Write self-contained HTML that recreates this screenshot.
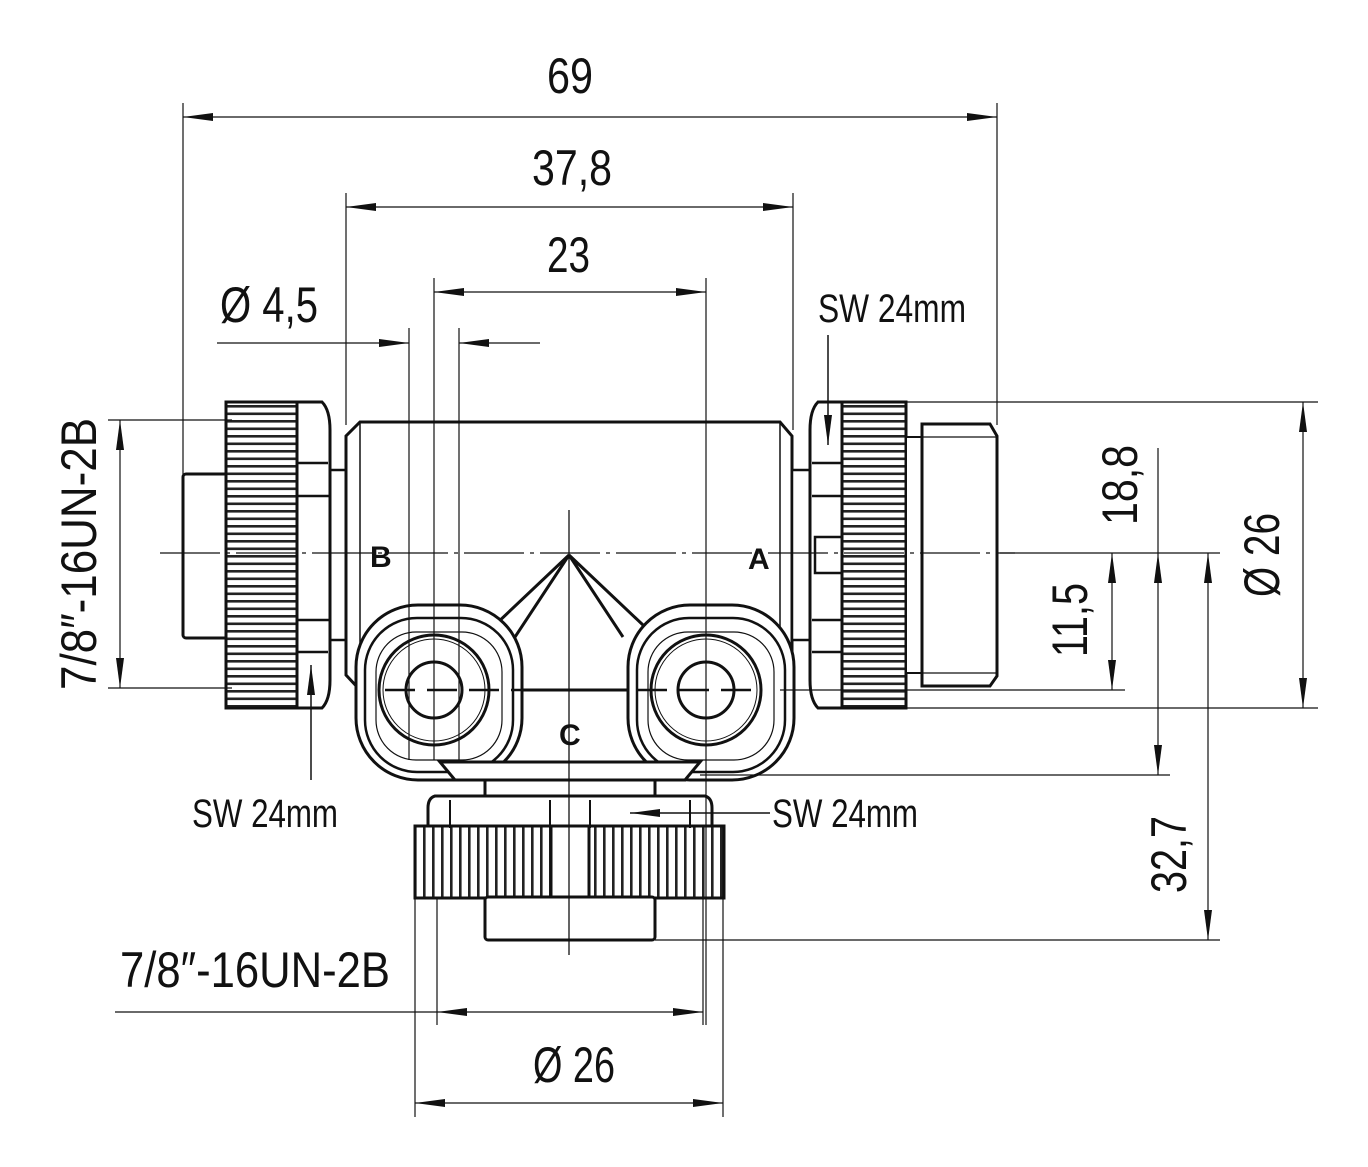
<!DOCTYPE html>
<html><head><meta charset="utf-8"><style>
html,body{margin:0;padding:0;background:#fff}
svg{display:block}
text{font-family:"Liberation Sans Narrow","Liberation Sans",sans-serif;fill:#111}
</style></head><body>
<svg width="1368" height="1167" viewBox="0 0 1368 1167" xmlns="http://www.w3.org/2000/svg">
<defs>
<marker id="a" viewBox="0 0 30 10" refX="30" refY="5" markerWidth="30" markerHeight="10" markerUnits="userSpaceOnUse" orient="auto-start-reverse"><path d="M0,1 L30,5 L0,9 Z" fill="#111"/></marker>
<pattern id="kh" width="10" height="7.5" patternUnits="userSpaceOnUse"><rect width="10" height="7.5" fill="#fff"/><rect y="0" width="10" height="2.6" fill="#222"/></pattern>
<pattern id="kv" width="9" height="10" patternUnits="userSpaceOnUse"><rect width="9" height="10" fill="#fff"/><rect x="0" width="2.6" height="10" fill="#222"/></pattern>
</defs>
<!-- Left connector -->
<g stroke="#111" stroke-width="3" fill="#fff">
<rect x="183" y="474" width="45" height="164" rx="3"/>
<rect x="330" y="470" width="18" height="170" stroke-width="2.5"/>
<path d="M297,402 L322,402 Q330,410 330,430 L330,680 Q330,700 322,708 L297,708 Z"/>
<rect x="226" y="402" width="71" height="306" fill="url(#kh)"/>
<path d="M297,463 L328,463 M297,496 L330,496 M297,620 L330,620 M297,652 L328,652" stroke-width="2.5"/>
</g>
<!-- main body -->
<g stroke="#111" stroke-width="3" fill="#fff">
<path d="M360,422 L780,422 L792,436 L792,675 L780,690 L360,690 L346,675 L346,436 Z"/>
<line x1="360" y1="422" x2="360" y2="690" stroke-width="1.5"/>
<line x1="780" y1="422" x2="780" y2="690" stroke-width="1.5"/>
</g>
<!-- bottom connector -->
<g stroke="#111" stroke-width="3" fill="#fff">
<path d="M440,762 L700,762 L685,780 L455,780 Z"/>
<rect x="485" y="778" width="170" height="18"/>
<path d="M435,796 L705,796 Q712,798 712,808 L712,830 L428,830 L428,808 Q428,798 435,796 Z"/>
<rect x="415" y="826" width="309" height="72" fill="url(#kv)"/>
<rect x="551" y="826" width="38" height="72" fill="#fff"/>
<rect x="485" y="897" width="170" height="43" rx="3"/>
<line x1="450" y1="800" x2="450" y2="828" stroke-width="2"/>
<line x1="550" y1="800" x2="550" y2="828" stroke-width="2"/>
<line x1="590" y1="800" x2="590" y2="828" stroke-width="2"/>
<line x1="690" y1="800" x2="690" y2="828" stroke-width="2"/>
</g>
<!-- ports -->
<g stroke="#111" fill="#fff">
<path d="M569,555 L495,625 M569,555 L515,637 M569,555 L643,625 M569,555 L623,637" stroke-width="3"/>
<g id="port">
<rect x="356" y="605" width="166" height="175" rx="62" stroke-width="3"/>
<rect x="365" y="618" width="148" height="154" rx="52" stroke-width="2.5"/>
<rect x="376" y="632" width="126" height="128" rx="40" stroke-width="1.2"/>
<circle cx="434" cy="690" r="55" stroke-width="3"/>
<circle cx="434" cy="690" r="51" stroke-width="1"/>
<circle cx="434" cy="690" r="28" stroke-width="3"/>
</g>
<use href="#port" x="272"/>
<path d="M440,762 L700,762 L685,780 L455,780 Z" stroke-width="3"/>
</g>
<!-- Right connector -->
<g stroke="#111" stroke-width="3" fill="#fff">
<rect x="792" y="470" width="20" height="170" stroke-width="2.5"/>
<path d="M842,402 L818,402 Q810,410 810,430 L810,680 Q810,700 818,708 L842,708 Z"/>
<path d="M812,463 L842,463 M812,496 L842,496 M812,620 L842,620 M812,652 L842,652" stroke-width="2.5"/>
<rect x="815" y="537" width="27" height="36" stroke-width="2.5"/>
<rect x="842" y="402" width="64" height="306" fill="url(#kh)"/>
<rect x="906" y="437" width="16" height="236" stroke-width="2"/>
<path d="M922,424 L990,424 L997,436 L997,676 L990,686 L922,686 Z"/>
<line x1="922" y1="437" x2="997" y2="437" stroke-width="1.2"/>
<line x1="922" y1="673" x2="997" y2="673" stroke-width="1.2"/>
</g>
<g stroke="#111" fill="none" stroke-width="1.2">
<!-- extension lines -->
<line x1="183" y1="103" x2="183" y2="475"/>
<line x1="997" y1="103" x2="997" y2="425"/>
<line x1="346" y1="193" x2="346" y2="425"/>
<line x1="793" y1="193" x2="793" y2="430"/>
<line x1="434" y1="278" x2="434" y2="760"/>
<line x1="706" y1="278" x2="706" y2="1025"/>
<line x1="409" y1="328" x2="409" y2="760"/>
<line x1="459" y1="328" x2="459" y2="760"/>
<line x1="108" y1="420" x2="232" y2="420"/>
<line x1="108" y1="688" x2="232" y2="688"/>
<line x1="905" y1="402" x2="1318" y2="402"/>
<line x1="905" y1="708" x2="1318" y2="708"/>
<line x1="780" y1="690" x2="1125" y2="690"/>
<line x1="700" y1="775" x2="1170" y2="775"/>
<line x1="655" y1="940" x2="1220" y2="940"/>
<line x1="1000" y1="553" x2="1220" y2="553"/>
<line x1="415" y1="840" x2="415" y2="1117"/>
<line x1="723" y1="840" x2="723" y2="1117"/>
<line x1="437" y1="897" x2="437" y2="1025"/>
<line x1="703" y1="897" x2="703" y2="1025"/>
<!-- dimension lines -->
<line x1="183" y1="117" x2="997" y2="117" marker-start="url(#a)" marker-end="url(#a)"/>
<line x1="346" y1="207" x2="793" y2="207" marker-start="url(#a)" marker-end="url(#a)"/>
<line x1="434" y1="292" x2="706" y2="292" marker-start="url(#a)" marker-end="url(#a)"/>
<line x1="217" y1="343" x2="409" y2="343" marker-end="url(#a)"/>
<line x1="540" y1="343" x2="459" y2="343" marker-end="url(#a)"/>
<line x1="120" y1="420" x2="120" y2="688" marker-start="url(#a)" marker-end="url(#a)"/>
<line x1="1303" y1="402" x2="1303" y2="708" marker-start="url(#a)" marker-end="url(#a)"/>
<line x1="1112" y1="553" x2="1112" y2="690" marker-start="url(#a)" marker-end="url(#a)"/>
<line x1="1158" y1="448" x2="1158" y2="553"/>
<line x1="1158" y1="553" x2="1158" y2="775" marker-start="url(#a)" marker-end="url(#a)"/>
<line x1="1208" y1="553" x2="1208" y2="940" marker-start="url(#a)" marker-end="url(#a)"/>
<line x1="115" y1="1012" x2="437" y2="1012"/>
<line x1="437" y1="1012" x2="703" y2="1012" marker-start="url(#a)" marker-end="url(#a)"/>
<line x1="415" y1="1103" x2="723" y2="1103" marker-start="url(#a)" marker-end="url(#a)"/>
<!-- SW leaders -->
<line x1="311" y1="780" x2="311" y2="665" marker-end="url(#a)" stroke-width="1.5"/>
<line x1="828" y1="335" x2="828" y2="445" marker-end="url(#a)" stroke-width="1.5"/>
<line x1="770" y1="813" x2="630" y2="813" marker-end="url(#a)" stroke-width="1.5"/>
</g>
<!-- centre lines -->
<g stroke="#111" stroke-width="1.3">
<line x1="160" y1="553" x2="1015" y2="553" stroke-dasharray="60,6,4,6"/>
<line x1="569" y1="510" x2="569" y2="955"/>
<line x1="385" y1="690" x2="760" y2="690" stroke-width="2.5" stroke-dasharray="30,12"/>
</g>
<!-- letters -->
<g font-weight="bold" font-size="30">
<text x="370" y="567">B</text>
<text x="748" y="569">A</text>
<text x="559" y="745">C</text>
</g>
<!-- dim text -->
<g font-size="50">
<text x="547" y="93" textLength="46" lengthAdjust="spacingAndGlyphs">69</text>
<text x="532" y="185" textLength="80" lengthAdjust="spacingAndGlyphs">37,8</text>
<text x="547" y="272" textLength="43" lengthAdjust="spacingAndGlyphs">23</text>
<text x="220" y="322" textLength="98" lengthAdjust="spacingAndGlyphs">Ø 4,5</text>
<text x="120" y="987" textLength="270" lengthAdjust="spacingAndGlyphs">7/8″-16UN-2B</text>
<text x="533" y="1082" textLength="82" lengthAdjust="spacingAndGlyphs">Ø 26</text>
<text transform="translate(96,690) rotate(-90)" textLength="272" lengthAdjust="spacingAndGlyphs">7/8″-16UN-2B</text>
<text transform="translate(1279,597) rotate(-90)" textLength="84" lengthAdjust="spacingAndGlyphs">Ø 26</text>
<text transform="translate(1137,525) rotate(-90)" textLength="80" lengthAdjust="spacingAndGlyphs">18,8</text>
<text transform="translate(1087,657) rotate(-90)" textLength="74" lengthAdjust="spacingAndGlyphs">11,5</text>
<text transform="translate(1186,893) rotate(-90)" textLength="77" lengthAdjust="spacingAndGlyphs">32,7</text>
</g>
<g font-size="40">
<text x="818" y="322" textLength="148" lengthAdjust="spacingAndGlyphs">SW 24mm</text>
<text x="192" y="827" textLength="146" lengthAdjust="spacingAndGlyphs">SW 24mm</text>
<text x="772" y="827" textLength="146" lengthAdjust="spacingAndGlyphs">SW 24mm</text>
</g>
</svg>
</body></html>
